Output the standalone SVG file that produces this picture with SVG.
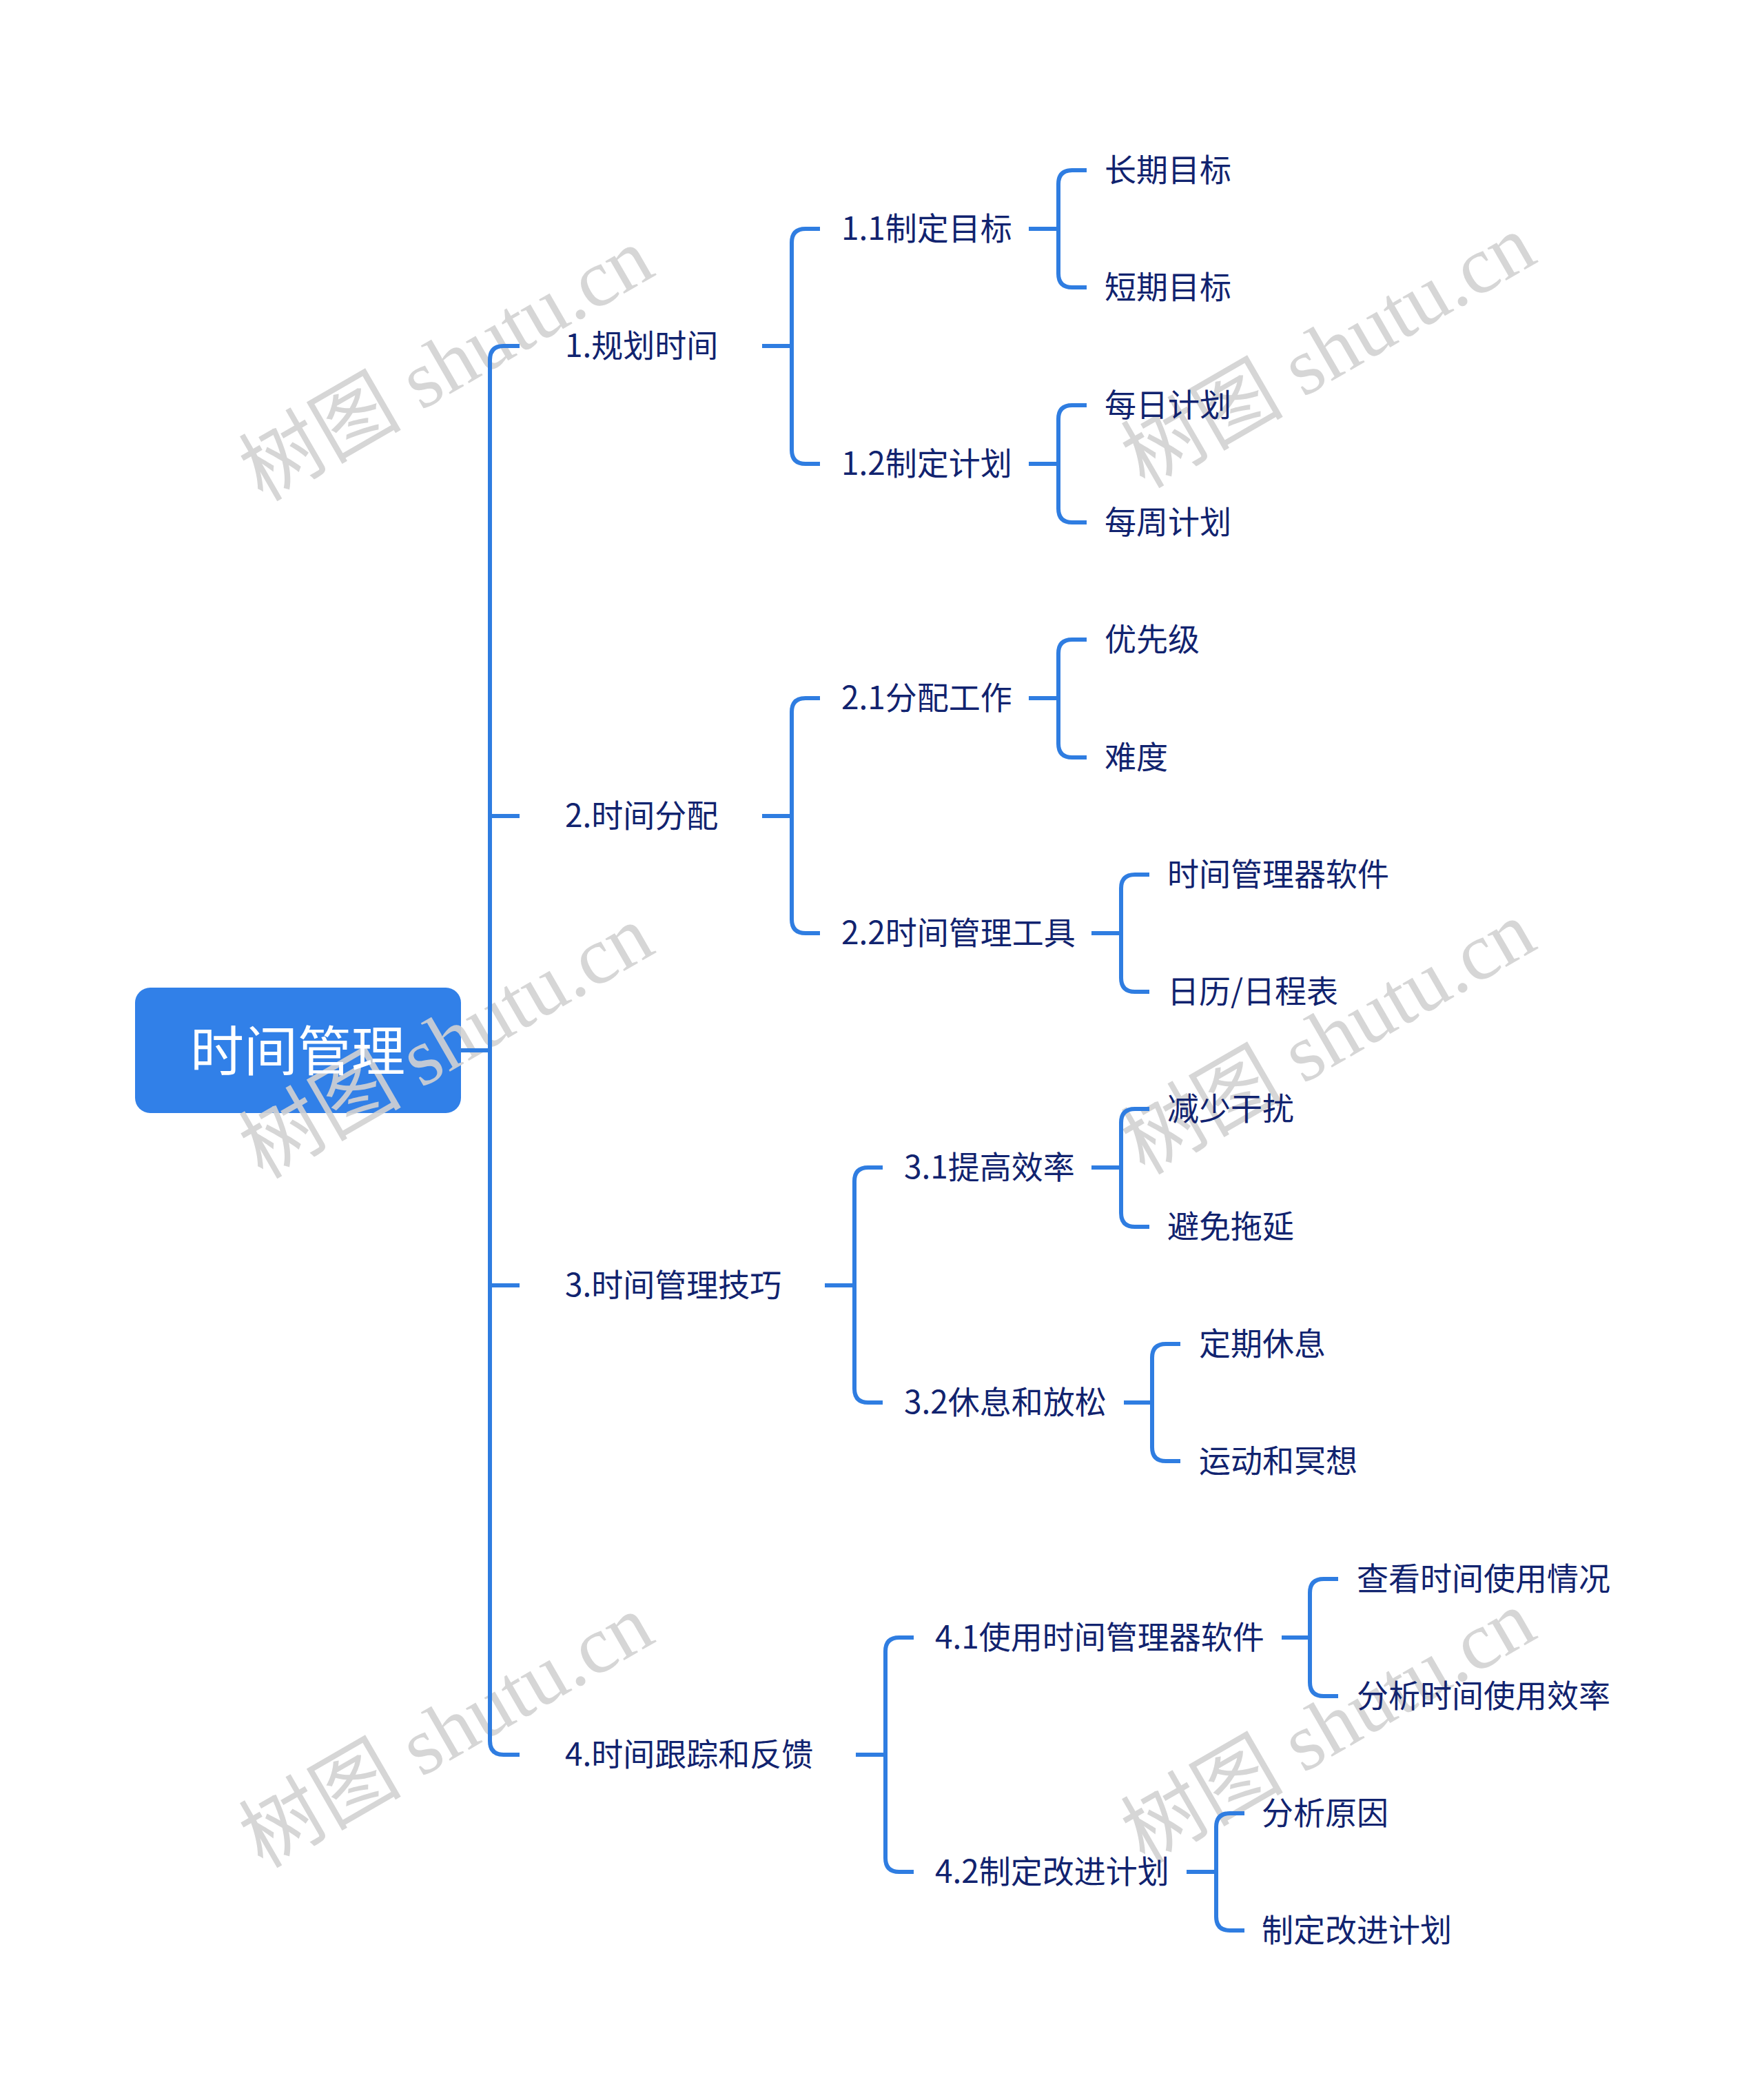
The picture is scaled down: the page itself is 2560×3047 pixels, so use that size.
<svg xmlns="http://www.w3.org/2000/svg" width="2560" height="3047" viewBox="0 0 2560 3047">
<style>
.c{fill:none;stroke:#2f7de1;stroke-width:6;stroke-linejoin:round}
.t{font-family:"Noto Sans CJK SC","Liberation Sans",sans-serif;font-size:46px;fill:#11236f;dominant-baseline:central}
.r{font-family:"Noto Sans CJK SC","Liberation Sans",sans-serif;font-size:78px;fill:#ffffff;dominant-baseline:central;text-anchor:middle}
.w{font-family:"Liberation Serif","Noto Sans CJK SC",serif;font-size:118px;fill:#d2d2d2;opacity:0.9;text-anchor:middle;dominant-baseline:central}
</style>
<rect width="2560" height="3047" fill="#ffffff"/>
<g id="root-box"><rect x="196" y="1433" width="473" height="182" rx="22" fill="#3180e8"/></g>
<g id="watermarks">
<text class="w" transform="translate(648,529) rotate(-30)">树图 shutu.cn</text>
<text class="w" transform="translate(1928,510) rotate(-30)">树图 shutu.cn</text>
<text class="w" transform="translate(648,1512) rotate(-30)">树图 shutu.cn</text>
<text class="w" transform="translate(1928,1506) rotate(-30)">树图 shutu.cn</text>
<text class="w" transform="translate(648,2512) rotate(-30)">树图 shutu.cn</text>
<text class="w" transform="translate(1928,2506) rotate(-30)">树图 shutu.cn</text>
</g>
<g id="connectors">
<path class="c" d="M669,1524 H711"/>
<path class="c" d="M754,502 H731 Q711,502 711,522 V2526 Q711,2546 731,2546 H754 M711,1184 H754 M711,1865 H754"/>
<path class="c" d="M1106,502 H1149 M1190,332 H1169 Q1149,332 1149,352 V653 Q1149,673 1169,673 H1190"/>
<path class="c" d="M1106,1184 H1149 M1190,1013 H1169 Q1149,1013 1149,1033 V1334 Q1149,1354 1169,1354 H1190"/>
<path class="c" d="M1197,1865 H1240 M1281,1694 H1260 Q1240,1694 1240,1714 V2015 Q1240,2035 1260,2035 H1281"/>
<path class="c" d="M1242,2546 H1285 M1326,2376 H1305 Q1285,2376 1285,2396 V2696 Q1285,2716 1305,2716 H1326"/>
<path class="c" d="M1493,332 H1536 M1577,247 H1556 Q1536,247 1536,267 V397 Q1536,417 1556,417 H1577"/>
<path class="c" d="M1493,673 H1536 M1577,588 H1556 Q1536,588 1536,608 V738 Q1536,758 1556,758 H1577"/>
<path class="c" d="M1493,1013 H1536 M1577,928 H1556 Q1536,928 1536,948 V1079 Q1536,1099 1556,1099 H1577"/>
<path class="c" d="M1584,1354 H1627 M1668,1269 H1647 Q1627,1269 1627,1289 V1419 Q1627,1439 1647,1439 H1668"/>
<path class="c" d="M1584,1694 H1627 M1668,1609 H1647 Q1627,1609 1627,1629 V1760 Q1627,1780 1647,1780 H1668"/>
<path class="c" d="M1631,2035 H1672 M1713,1950 H1692 Q1672,1950 1672,1970 V2100 Q1672,2120 1692,2120 H1713"/>
<path class="c" d="M1860,2376 H1901 M1942,2291 H1921 Q1901,2291 1901,2311 V2441 Q1901,2461 1921,2461 H1942"/>
<path class="c" d="M1722,2716 H1765 M1806,2631 H1785 Q1765,2631 1765,2651 V2781 Q1765,2801 1785,2801 H1806"/>
</g>
<g id="root"><text class="r" x="432" y="1520">时间管理</text></g>
<g id="n1"><text class="t" x="820" y="498">1.规划时间</text></g>
<g id="n2"><text class="t" x="820" y="1180">2.时间分配</text></g>
<g id="n3"><text class="t" x="820" y="1861">3.时间管理技巧</text></g>
<g id="n4"><text class="t" x="820" y="2542">4.时间跟踪和反馈</text></g>
<g id="n11"><text class="t" x="1221" y="328">1.1制定目标</text></g>
<g id="n12"><text class="t" x="1221" y="669">1.2制定计划</text></g>
<g id="n21"><text class="t" x="1221" y="1009">2.1分配工作</text></g>
<g id="n22"><text class="t" x="1221" y="1350">2.2时间管理工具</text></g>
<g id="n31"><text class="t" x="1312" y="1690">3.1提高效率</text></g>
<g id="n32"><text class="t" x="1312" y="2031">3.2休息和放松</text></g>
<g id="n41"><text class="t" x="1357" y="2372">4.1使用时间管理器软件</text></g>
<g id="n42"><text class="t" x="1357" y="2712">4.2制定改进计划</text></g>
<g id="l1"><text class="t" x="1603" y="243">长期目标</text></g>
<g id="l2"><text class="t" x="1603" y="413">短期目标</text></g>
<g id="l3"><text class="t" x="1603" y="584">每日计划</text></g>
<g id="l4"><text class="t" x="1603" y="754">每周计划</text></g>
<g id="l5"><text class="t" x="1603" y="924">优先级</text></g>
<g id="l6"><text class="t" x="1603" y="1095">难度</text></g>
<g id="l7"><text class="t" x="1694" y="1265">时间管理器软件</text></g>
<g id="l8"><text class="t" x="1694" y="1435">日历/日程表</text></g>
<g id="l9"><text class="t" x="1694" y="1605">减少干扰</text></g>
<g id="l10"><text class="t" x="1694" y="1776">避免拖延</text></g>
<g id="l11"><text class="t" x="1740" y="1946">定期休息</text></g>
<g id="l12"><text class="t" x="1740" y="2116">运动和冥想</text></g>
<g id="l13"><text class="t" x="1969" y="2287">查看时间使用情况</text></g>
<g id="l14"><text class="t" x="1969" y="2457">分析时间使用效率</text></g>
<g id="l15"><text class="t" x="1831" y="2627">分析原因</text></g>
<g id="l16"><text class="t" x="1831" y="2797">制定改进计划</text></g>
</svg>
